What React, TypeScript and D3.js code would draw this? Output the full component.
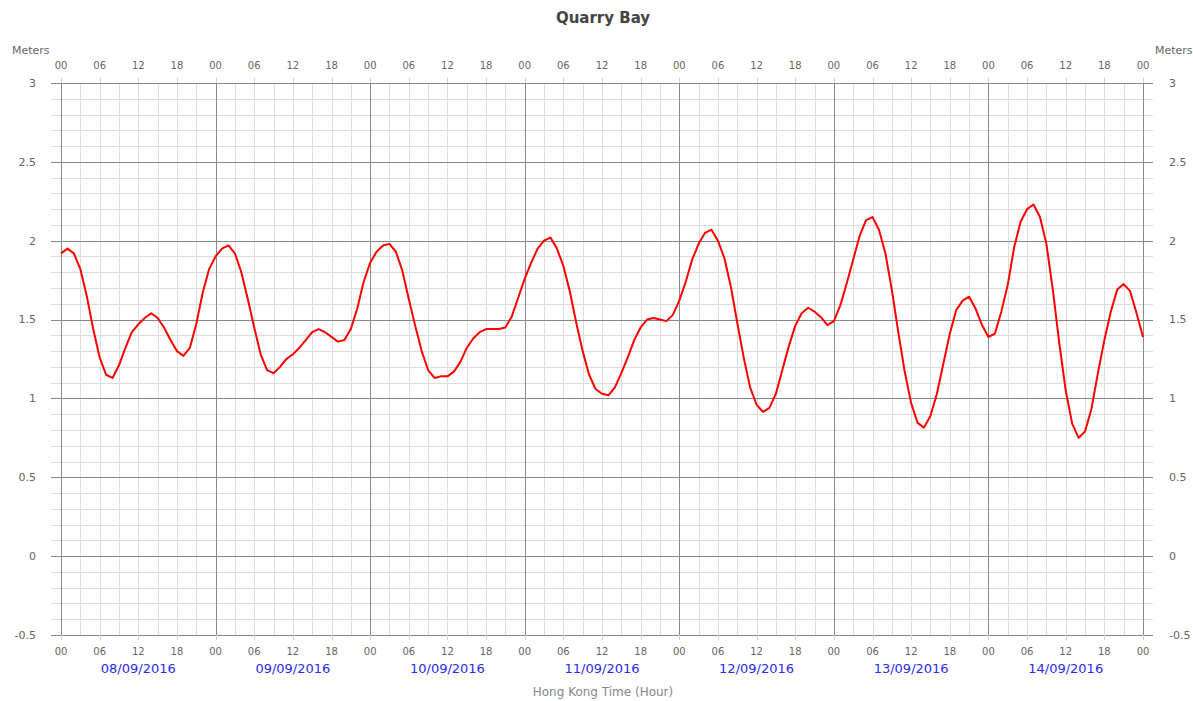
import * as d3 from "d3";

// hourly tide level (m), 08/09/2016 00:00 -> 15/09/2016 00:00
const levels: number[] = [
  // 08/09
  1.92, 1.95, 1.92, 1.82, 1.65, 1.44, 1.26, 1.15, 1.13, 1.21, 1.32, 1.42,
  1.47, 1.51, 1.54, 1.51, 1.45, 1.37, 1.3, 1.27, 1.32, 1.47, 1.67, 1.82,
  // 09/09
  1.9, 1.95, 1.97, 1.92, 1.8, 1.63, 1.45, 1.28, 1.18, 1.16, 1.2, 1.25,
  1.28, 1.32, 1.37, 1.42, 1.44, 1.42, 1.39, 1.36, 1.37, 1.44, 1.57, 1.74,
  // 10/09
  1.86, 1.93, 1.97, 1.98, 1.93, 1.81, 1.63, 1.46, 1.3, 1.18, 1.13, 1.14,
  1.14, 1.17, 1.23, 1.32, 1.38, 1.42, 1.44, 1.44, 1.44, 1.45, 1.52, 1.64,
  // 11/09
  1.76, 1.86, 1.95, 2.0, 2.02, 1.95, 1.84, 1.68, 1.48, 1.3, 1.15, 1.06,
  1.03, 1.02, 1.07, 1.16, 1.26, 1.37, 1.45, 1.5, 1.51, 1.5, 1.49, 1.53,
  // 12/09
  1.62, 1.74, 1.88, 1.98, 2.05, 2.07, 2.0, 1.89, 1.71, 1.48, 1.26, 1.07,
  0.96, 0.915, 0.94, 1.03, 1.18, 1.33, 1.46, 1.54, 1.575, 1.55, 1.515, 1.465,
  // 13/09
  1.49, 1.59, 1.73, 1.88, 2.03, 2.13, 2.15, 2.07, 1.92, 1.69, 1.42, 1.17,
  0.97, 0.845, 0.815, 0.89, 1.03, 1.22, 1.41, 1.56, 1.62, 1.645, 1.57, 1.465,
  // 14/09
  1.39, 1.41, 1.55, 1.72, 1.96, 2.12, 2.2, 2.23, 2.15, 1.98, 1.69, 1.35,
  1.05, 0.84, 0.75, 0.79, 0.935, 1.16, 1.37, 1.55, 1.69, 1.725, 1.68, 1.54,
  // 15/09 00
  1.39,
];

const days = ["08/09/2016", "09/09/2016", "10/09/2016", "11/09/2016", "12/09/2016", "13/09/2016", "14/09/2016"];
const hourLabels = ["00", "06", "12", "18"];
const yTicks = [3, 2.5, 2, 1.5, 1, 0.5, 0, -0.5];

const W = 1193;
const H = 701;
const font = "DejaVu Sans, Verdana, sans-serif";

export default function App() {
  const totalHours = days.length * 24;
  const x = d3.scaleLinear().domain([0, totalHours]).range([61, 1143]);
  const y = d3.scaleLinear().domain([-0.5, 3]).range([635, 83]);

  const minorY = d3.range(-5, 31).map((i) => i / 10).filter((v) => Math.round(v * 10) % 5 !== 0);
  const minorX = d3.range(0, totalHours + 1, 3).filter((h) => h % 24 !== 0);
  const dayX = d3.range(0, totalHours + 1, 24);
  const tickX = d3.range(0, totalHours + 1, 6);

  const line = d3
    .line<number>()
    .x((_, i) => x(i))
    .y((d) => y(d))
    .curve(d3.curveLinear);

  const [x0, x1] = x.range();

  return (
    <svg
      width={W}
      height={H}
      style={{ position: "absolute", left: 0, top: 0, background: "#fff" }}
      fontFamily={font}
    >
      <text x={603} y={23} textAnchor="middle" fontSize={15} fontWeight="bold" fill="#444">
        Quarry Bay
      </text>
      <text x={12} y={54} fontSize={11} fill="#666">Meters</text>
      <text x={1155} y={54} fontSize={11} fill="#666">Meters</text>

      {/* minor grid */}
      {minorY.map((v) => (
        <line key={"my" + v} x1={x0 - 10} x2={x1 + 10} y1={Math.round(y(v)) + 0.5} y2={Math.round(y(v)) + 0.5} stroke="#dcdcdc" />
      ))}
      {minorX.map((h) => (
        <line key={"mx" + h} x1={Math.round(x(h)) + 0.5} x2={Math.round(x(h)) + 0.5} y1={y(3)} y2={y(-0.5)} stroke="#dedede" />
      ))}

      {/* major grid */}
      {yTicks.map((v) => (
        <line key={"y" + v} x1={x0 - 10} x2={x1 + 10} y1={Math.round(y(v)) + 0.5} y2={Math.round(y(v)) + 0.5} stroke="#888" />
      ))}
      {dayX.map((h) => (
        <line key={"d" + h} x1={Math.round(x(h)) + 0.5} x2={Math.round(x(h)) + 0.5} y1={y(3)} y2={y(-0.5)} stroke="#8a8a8a" />
      ))}

      {/* ticks */}
      {tickX.map((h) => (
        <g key={"t" + h}>
          <line x1={Math.round(x(h)) + 0.5} x2={Math.round(x(h)) + 0.5} y1={y(3) - 5} y2={y(3)} stroke="#c4d2e2" />
          <line x1={Math.round(x(h)) + 0.5} x2={Math.round(x(h)) + 0.5} y1={y(-0.5)} y2={y(-0.5) + 5} stroke="#c4d2e2" />
          <text x={x(h)} y={69} textAnchor="middle" fontSize={10} fill="#666">
            {hourLabels[(h / 6) % 4]}
          </text>
          <text x={x(h)} y={655} textAnchor="middle" fontSize={10} fill="#666">
            {hourLabels[(h / 6) % 4]}
          </text>
        </g>
      ))}

      {/* y labels */}
      {yTicks.map((v) => (
        <g key={"yl" + v}>
          <text x={36} y={y(v)} dy="0.35em" textAnchor="end" fontSize={11} fill="#666">
            {String(v)}
          </text>
          <text x={1169} y={y(v)} dy="0.35em" textAnchor="start" fontSize={11} fill="#666">
            {String(v)}
          </text>
        </g>
      ))}

      {/* date labels */}
      {days.map((d, i) => (
        <text key={d} x={x(i * 24 + 12)} y={673} textAnchor="middle" fontSize={13} fill="#2b2bf0">
          {d}
        </text>
      ))}

      <text x={603} y={696} textAnchor="middle" fontSize={12} fill="#888">
        Hong Kong Time (Hour)
      </text>

      <path d={line(levels) ?? ""} fill="none" stroke="#ff0000" strokeWidth={2} strokeLinejoin="round" />
    </svg>
  );
}
